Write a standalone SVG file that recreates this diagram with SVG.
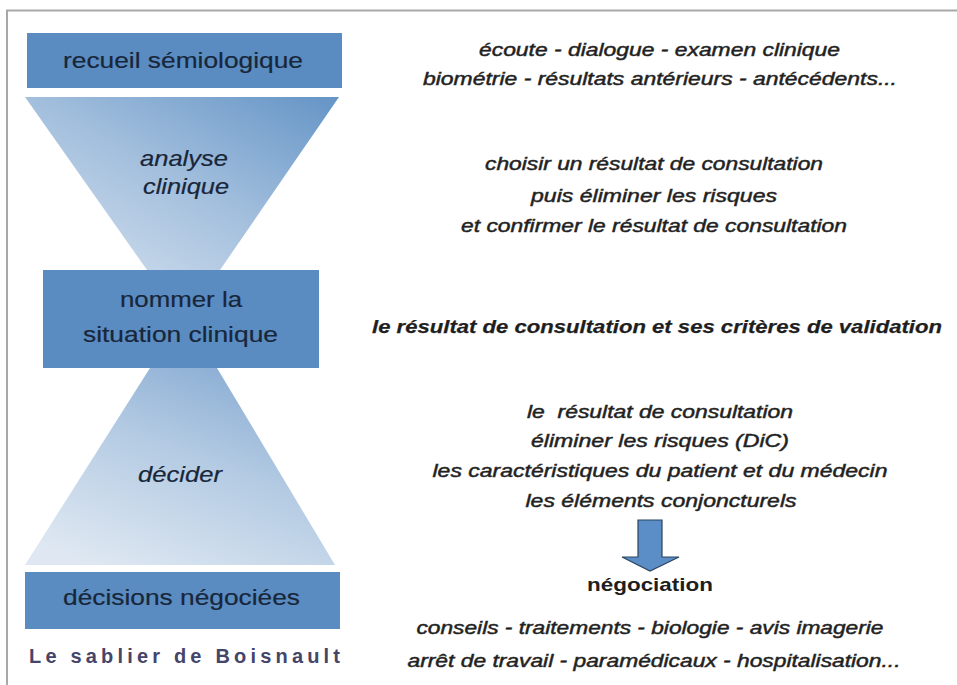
<svg xmlns="http://www.w3.org/2000/svg" width="957" height="685" viewBox="0 0 957 685">
<style>
.box{fill:#5a8cc1;}
.bt{font-family:"Liberation Sans",Arial,sans-serif;font-size:22px;fill:#18263a;stroke:#18263a;stroke-width:0.2;text-anchor:middle;}
.it{font-style:italic;}
.rt{font-family:"Liberation Sans",Arial,sans-serif;font-size:19px;font-style:italic;fill:#1e1e1e;stroke:#2a2a2a;stroke-width:0.5;text-anchor:middle;}
.rb{font-weight:bold;stroke-width:0.25;}
.cap{font-family:"Liberation Sans",Arial,sans-serif;font-size:20px;font-weight:bold;fill:#45456a;text-anchor:middle;}
.neg{font-family:"Liberation Sans",Arial,sans-serif;font-size:19px;font-weight:bold;fill:#1e1e1e;text-anchor:middle;}
</style>
<defs>
<linearGradient id="g1" x1="0" y1="1" x2="1" y2="0">
<stop offset="0" stop-color="#d6e2ef"/>
<stop offset="0.5" stop-color="#a3bfdd"/>
<stop offset="1" stop-color="#6494c6"/>
</linearGradient>
<linearGradient id="g2" x1="0.2" y1="1" x2="0.8" y2="0">
<stop offset="0" stop-color="#dfe8f2"/>
<stop offset="0.55" stop-color="#b4cbe3"/>
<stop offset="1" stop-color="#86aad2"/>
</linearGradient>
</defs>
<rect width="957" height="685" fill="#fff"/>
<g id="frame" fill="none" stroke="#a8a8a8" stroke-width="2">
<path d="M7 685 V10.5 H957"/>
</g>
<g id="analyse">
<polygon points="25,97 339,97 220,270 147,270" fill="url(#g1)"/>
<text class="bt it" x="184" y="166" textLength="88" lengthAdjust="spacingAndGlyphs">analyse</text>
<text class="bt it" x="186" y="194" textLength="86" lengthAdjust="spacingAndGlyphs">clinique</text>
</g>
<g id="decider">
<polygon points="150,368 217,368 335,565 25,565" fill="url(#g2)"/>
<text class="bt it" x="180" y="482" textLength="84" lengthAdjust="spacingAndGlyphs">décider</text>
</g>
<g id="recueil">
<rect class="box" x="27" y="33" width="315" height="55"/>
<text class="bt" x="183" y="68" textLength="240" lengthAdjust="spacingAndGlyphs">recueil sémiologique</text>
</g>
<g id="nommer">
<rect class="box" x="43" y="270" width="276" height="98"/>
<text class="bt" x="181" y="306.5" textLength="122" lengthAdjust="spacingAndGlyphs">nommer la</text>
<text class="bt" x="180.5" y="342" textLength="195" lengthAdjust="spacingAndGlyphs">situation clinique</text>
</g>
<g id="decisions">
<rect class="box" x="25" y="572" width="315" height="57"/>
<text class="bt" x="181.5" y="605" textLength="237" lengthAdjust="spacingAndGlyphs">décisions négociées</text>
</g>
<g id="caption">
<text class="cap" x="184.5" y="663" textLength="311" lengthAdjust="spacing">Le sablier de Boisnault</text>
</g>
<g id="notes-recueil">
<text class="rt" x="659.5" y="56" textLength="361" lengthAdjust="spacingAndGlyphs">écoute - dialogue - examen clinique</text>
<text class="rt" x="660" y="85" textLength="474" lengthAdjust="spacingAndGlyphs">biométrie - résultats antérieurs - antécédents...</text>
</g>
<g id="notes-analyse">
<text class="rt" x="654" y="170" textLength="338" lengthAdjust="spacingAndGlyphs">choisir un résultat de consultation</text>
<text class="rt" x="654" y="202" textLength="246" lengthAdjust="spacingAndGlyphs">puis éliminer les risques</text>
<text class="rt" x="654" y="232" textLength="386" lengthAdjust="spacingAndGlyphs">et confirmer le résultat de consultation</text>
</g>
<g id="notes-nommer">
<text class="rt rb" x="657" y="333" textLength="570" lengthAdjust="spacingAndGlyphs">le résultat de consultation et ses critères de validation</text>
</g>
<g id="notes-decider">
<text class="rt" x="660" y="418" textLength="266" lengthAdjust="spacingAndGlyphs" xml:space="preserve">le  résultat de consultation</text>
<text class="rt" x="660" y="447" textLength="258" lengthAdjust="spacingAndGlyphs">éliminer les risques (DiC)</text>
<text class="rt" x="660" y="477" textLength="455" lengthAdjust="spacingAndGlyphs">les caractéristiques du patient et du médecin</text>
<text class="rt" x="661" y="507" textLength="271" lengthAdjust="spacingAndGlyphs">les éléments conjoncturels</text>
</g>
<g id="connectors">
<polygon points="638,520 662,520 662,557 679,557 650,571 622,557 638,557" fill="#5b8ec6" stroke="#2b4460" stroke-width="1.2" stroke-linejoin="miter"/>
</g>
<g id="negociation">
<text class="neg" x="650" y="591" textLength="126" lengthAdjust="spacingAndGlyphs">négociation</text>
<text class="rt" x="650" y="634" textLength="467" lengthAdjust="spacingAndGlyphs">conseils - traitements - biologie - avis imagerie</text>
<text class="rt" x="654" y="667" textLength="493" lengthAdjust="spacingAndGlyphs">arrêt de travail - paramédicaux - hospitalisation...</text>
</g>
</svg>
